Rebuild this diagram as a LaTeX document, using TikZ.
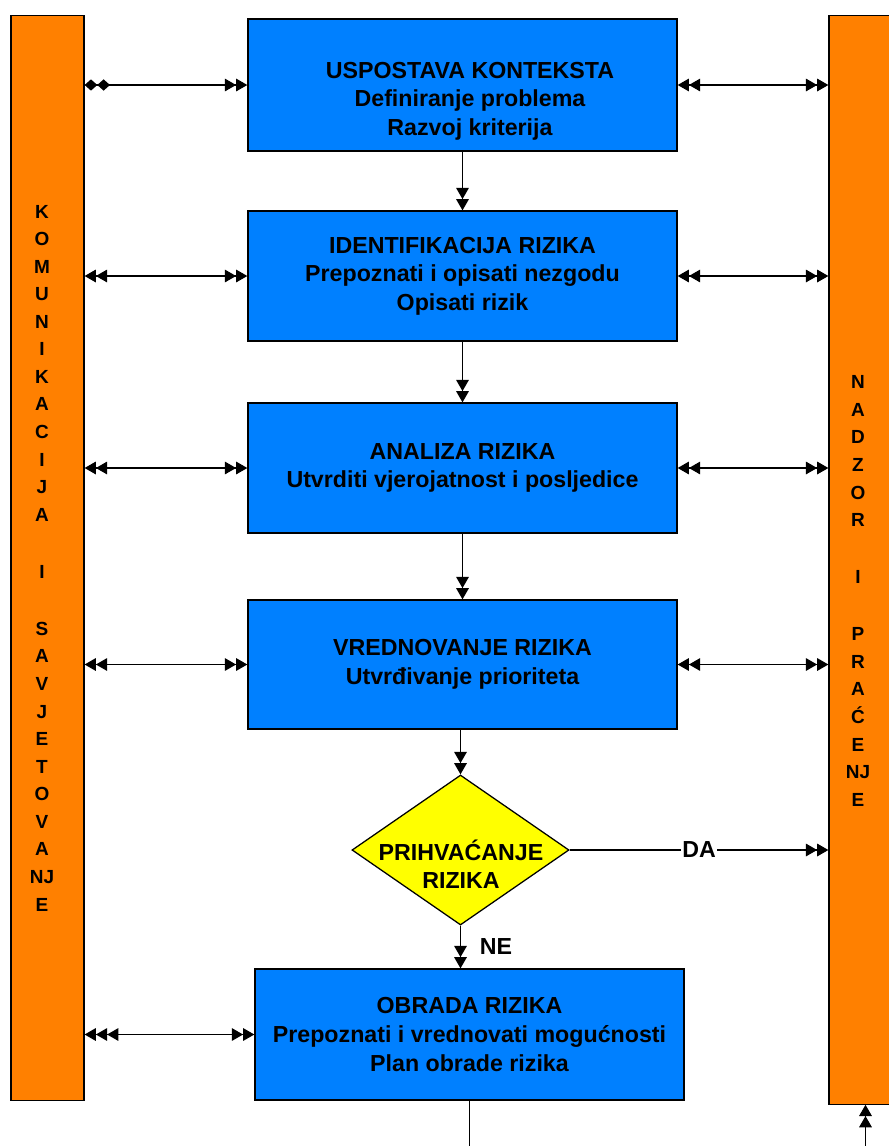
\documentclass[tikz,border=0pt]{standalone}
\usepackage{fontspec}
\setmainfont{Liberation Sans}
\usepackage{xcolor}
\usetikzlibrary{arrows.meta,shapes.geometric}

\definecolor{stageblue}{RGB}{0,128,255}
\definecolor{barorange}{RGB}{255,128,0}
\definecolor{decyellow}{RGB}{255,255,0}

\begin{document}
\begin{tikzpicture}[
      x=0.025cm, y=-0.025cm,
      >={Triangle[length=8pt,width=9pt]},
      every node/.style={font=\bfseries\fontsize{16.5}{20.3}\selectfont},
      stage/.style={
        draw, line width=0.9pt, fill=stageblue, align=center,
        minimum width=10.725cm, minimum height=3.25cm, inner sep=0pt
      },
      bar/.style={
        draw, line width=0.9pt, fill=barorange,
        minimum width=1.825cm, inner sep=0pt
      },
      bartext/.style={align=center, font=\bfseries\fontsize{13.5}{19.6}\selectfont},
      decision/.style={
        draw, diamond, line width=0.9pt, fill=decyellow,
        minimum width=5.425cm, minimum height=3.75cm, inner sep=0pt
      },
      link/.style={line width=0.8pt}
    ]
    \useasboundingbox (0,0) rectangle (889,1146);

    % side bars
    \node[bar, minimum height=27.1cm] (comm) at (47.5,558) {};
    \node[bar, minimum height=27.2cm] (moni) at (865.5,560) {};
    \node[bartext] (commtext) at (42,558)
      {K\\O\\M\\U\\N\\I\\K\\A\\C\\I\\J\\A\\[21pt]I\\[21pt]S\\A\\V\\J\\E\\T\\O\\V\\A\\NJ\\E};
    \node[bartext] (monitext) at (858,591)
      {N\\A\\D\\Z\\O\\R\\[21pt]I\\[21pt]P\\R\\A\\Ć\\E\\NJ\\E};

    % process steps
    \node[stage, minimum height=3.3cm] (context) at (462.5,85) {};
    \node[align=center] (contexttext) at (470,101)
      {USPOSTAVA KONTEKSTA\\Definiranje problema\\Razvoj kriterija};
    \node[stage] (ident) at (462.5,276)
      {IDENTIFIKACIJA RIZIKA\\Prepoznati i opisati nezgodu\\Opisati rizik};
    \node[stage] (analysis) at (462.5,468)
      {ANALIZA RIZIKA\\Utvrditi vjerojatnost i posljedice};
    \node[stage, minimum height=3.225cm] (evaluation) at (462.5,664.5)
      {VREDNOVANJE RIZIKA\\Utvrđivanje prioriteta};
    \node[decision] (accept) at (460.5,850) {};
    \node[align=center] (accepttext) at (461,864) {PRIHVAĆANJE\\RIZIKA};
    \node[stage, minimum height=3.275cm] (treatment) at (469.5,1034.5)
      {OBRADA RIZIKA\\Prepoznati i vrednovati mogućnosti\\Plan obrade rizika};
    \coordinate (loopback) at (469.5,1180);

    % flow
    \draw[link, ->>] (context)    -- (ident);
    \draw[link, ->>] (ident)      -- (analysis);
    \draw[link, ->>] (analysis)   -- (evaluation);
    \draw[link, ->>] (accept.north |- evaluation.south) -- (accept.north);
    \draw[link, ->>] (accept.south) -- node[right, xshift=10pt] {NE} (accept.south |- treatment.north);
    \draw[link, ->>] (accept.east) -- node[fill=white, inner sep=1pt] {DA} (accept.east -| moni.west);
    \draw[link, ->>] (treatment.south) -- (treatment.south |- loopback) -| (moni.south);

    % communication
    \draw[link, {Diamond[length=9pt,width=8pt]Diamond[length=9pt,width=8pt]}->>] (comm.east |- context.west) -- (context.west);
    \draw[link, <<->>] (comm.east |- ident.west)      -- (ident.west);
    \draw[link, <<->>] (comm.east |- analysis.west)   -- (analysis.west);
    \draw[link, <<->>] (comm.east |- evaluation.west) -- (evaluation.west);
    \draw[link, <<<->>] (comm.east |- treatment.west) -- (treatment.west);

    % monitoring
    \draw[link, <<->>] (context.east)    -- (context.east -| moni.west);
    \draw[link, <<->>] (ident.east)      -- (ident.east -| moni.west);
    \draw[link, <<->>] (analysis.east)   -- (analysis.east -| moni.west);
    \draw[link, <<->>] (evaluation.east) -- (evaluation.east -| moni.west);
  \end{tikzpicture}
\end{document}
